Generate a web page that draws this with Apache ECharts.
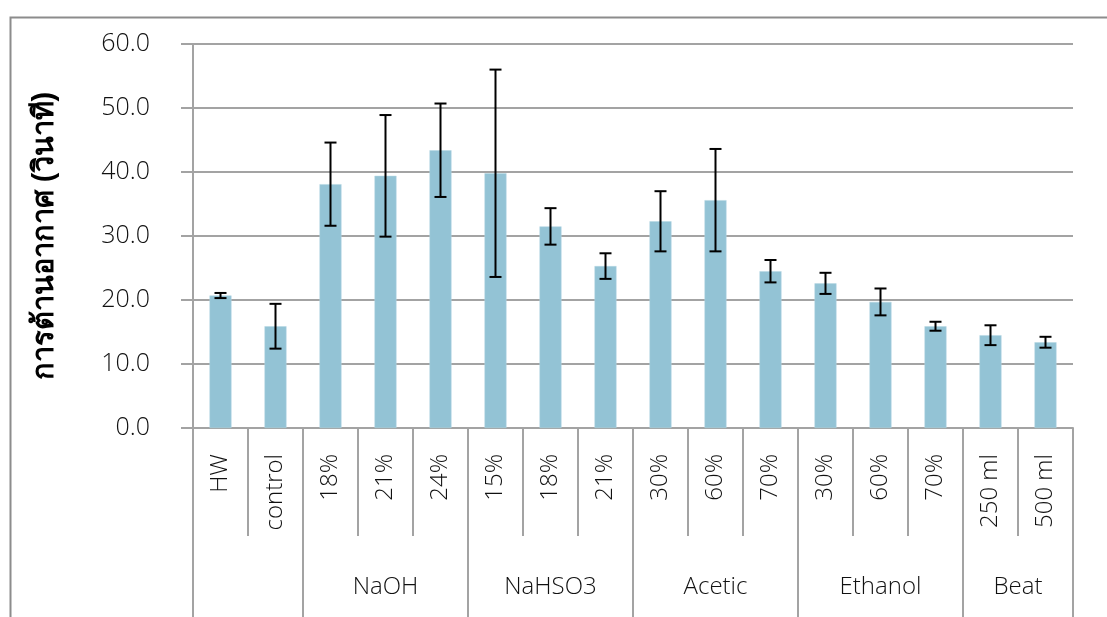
<!DOCTYPE html>
<html>
<head>
<meta charset="utf-8">
<script src="https://cdn.jsdelivr.net/npm/echarts@6/dist/echarts.min.js"></script>
<style>
  html, body { margin: 0; padding: 0; background: #fff; }
  #chart { width: 1107px; height: 617px; }
</style>
</head>
<body>
<div id="chart"></div>
<script>
// ---- data ----
const categories = ['HW', 'control', '18%', '21%', '24%', '15%', '18%', '21%', '30%', '60%', '70%', '30%', '60%', '70%', '250 ml', '500 ml'];
const groupNames = ['', 'NaOH', 'NaHSO3', 'Acetic', 'Ethanol', 'Beat'];
const groupSizes = [2, 3, 3, 3, 3, 2];
const means = [20.7, 15.9, 38.1, 39.4, 43.4, 39.8, 31.5, 25.3, 32.3, 35.6, 24.5, 22.6, 19.7, 15.9, 14.5, 13.4];
const errors = [0.4, 3.5, 6.5, 9.5, 7.3, 16.2, 2.85, 2.0, 4.7, 8.0, 1.75, 1.65, 2.1, 0.7, 1.55, 0.85];
const yTitle = 'การต้านอากาศ (วินาที)';

// ---- derived structures ----
const groupSlots = [];
const boundarySlots = new Set();
const labelSlots = new Set();
(function () {
  const n = categories.length * 2 + 1;
  for (let i = 0; i < n; i++) groupSlots.push('');
  let start = 0;
  boundarySlots.add(0);
  groupNames.forEach((g, k) => {
    const c = start * 2 + groupSizes[k];
    groupSlots[c] = g;
    if (g) labelSlots.add(c);
    start += groupSizes[k];
    boundarySlots.add(start * 2);
  });
})();
const errData = means.map((m, i) => [i, m - errors[i], m + errors[i]]);

const FONT = 'Open Sans';
const FW = 300;
const FS = 24;
const GRAY = '#a3a3a3';

const chart = echarts.init(document.getElementById('chart'), null, { renderer: 'canvas' });
chart.setOption({
  animation: false,
  backgroundColor: '#fff',
  graphic: [{
    type: 'rect', left: 8, top: 15, silent: true,
    shape: { x: 0, y: 0, width: 1200, height: 700 },
    style: { fill: 'none', stroke: '#8c8c8c', lineWidth: 2 }
  }],
  grid: { left: 193, right: 34, top: 44, bottom: 189, outerBoundsMode: 'none', containLabel: false },
  xAxis: [{
    type: 'category', data: categories, boundaryGap: true, position: 'bottom',
    axisLine: { show: true, lineStyle: { color: GRAY, width: 2 } },
    axisTick: { show: true, interval: 0, length: 108, lineStyle: { color: GRAY, width: 2 } },
    axisLabel: { interval: 0, rotate: 90, margin: 26, fontFamily: FONT, fontWeight: FW, fontSize: FS, color: '#111' },
    splitLine: { show: false }
  }, {
    type: 'category', data: groupSlots, boundaryGap: false, position: 'bottom',
    axisLine: { show: false },
    axisTick: { show: true, length: 200, interval: (i) => boundarySlots.has(i), lineStyle: { color: GRAY, width: 2 } },
    axisLabel: { show: true, interval: (i) => labelSlots.has(i), margin: 147, fontFamily: FONT, fontWeight: FW, fontSize: FS, color: '#111' },
    splitLine: { show: false }
  }],
  yAxis: {
    type: 'value', min: 0, max: 60, interval: 10,
    name: yTitle, nameLocation: 'middle', nameGap: 134, nameRotate: 90,
    nameTextStyle: { fontSize: 29, fontWeight: 'bold', color: '#000', fontFamily: 'Liberation Sans, DejaVu Sans, Noto Sans, sans-serif' },
    axisLine: { show: true, lineStyle: { color: GRAY, width: 2 } },
    axisTick: { show: true, length: 12, lineStyle: { color: GRAY, width: 2 } },
    axisLabel: { margin: 43, formatter: (v) => v.toFixed(1), fontFamily: FONT, fontWeight: FW, fontSize: 25, color: '#111' },
    splitLine: { show: true, lineStyle: { color: GRAY, width: 2 } }
  },
  series: [{
    type: 'bar', data: means, xAxisIndex: 0, barWidth: 22,
    itemStyle: { color: '#93c3d5', borderColor: '#b5d7e3', borderWidth: 0.5 }
  }, {
    type: 'custom', xAxisIndex: 0, data: errData, z: 5,
    renderItem: function (params, api) {
      const x = api.value(0);
      const lo = api.coord([x, api.value(1)]);
      const hi = api.coord([x, api.value(2)]);
      const hw = 6;
      const st = { stroke: '#000', lineWidth: 2 };
      return {
        type: 'group', children: [
          { type: 'line', shape: { x1: hi[0], y1: hi[1], x2: lo[0], y2: lo[1] }, style: st },
          { type: 'line', shape: { x1: hi[0] - hw, y1: hi[1], x2: hi[0] + hw, y2: hi[1] }, style: st },
          { type: 'line', shape: { x1: lo[0] - hw, y1: lo[1], x2: lo[0] + hw, y2: lo[1] }, style: st }
        ]
      };
    }
  }]
});
</script>
</body>
</html>
